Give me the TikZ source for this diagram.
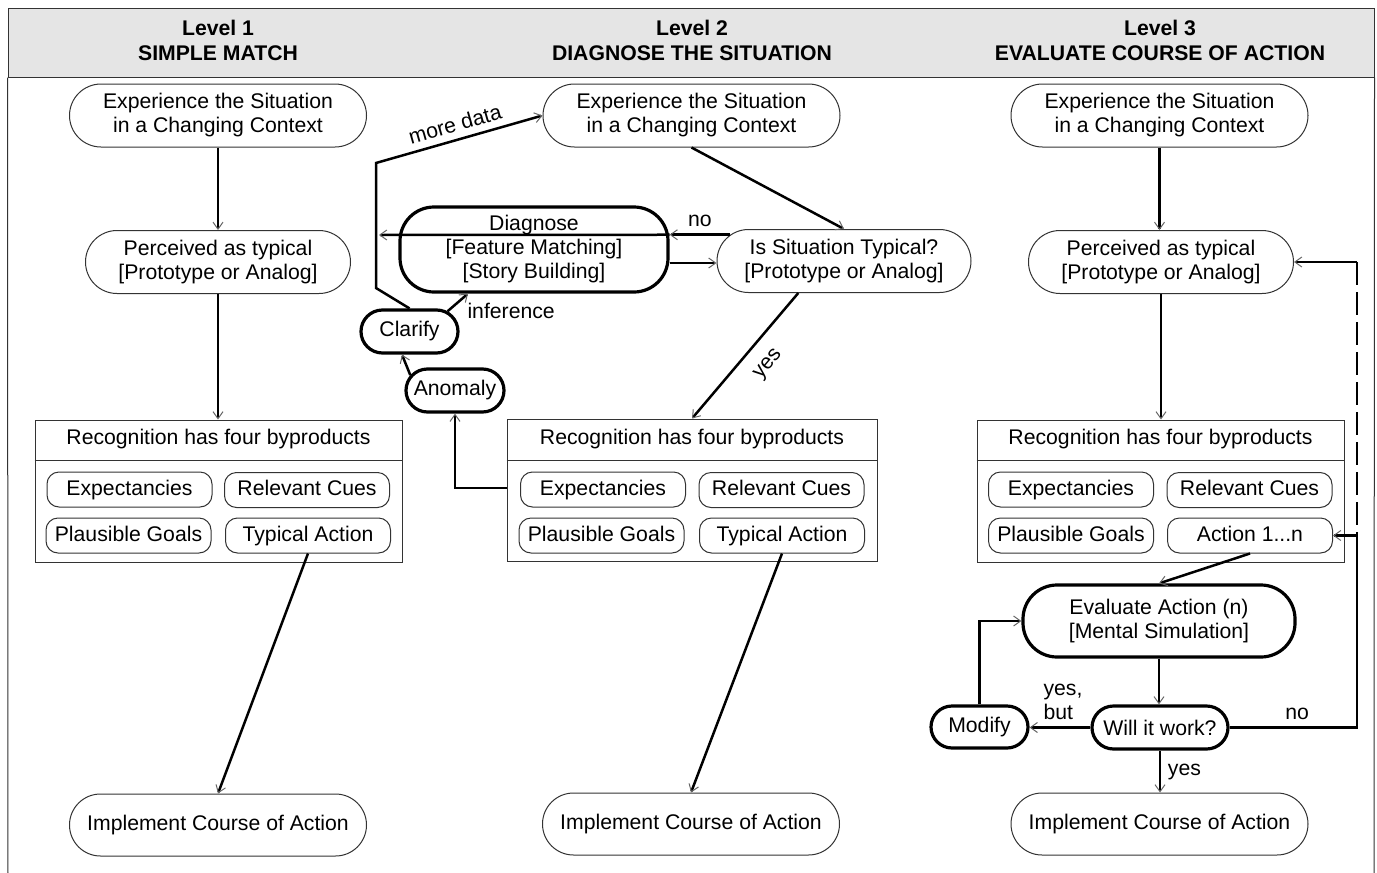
\documentclass[tikz,border=0pt]{standalone}
\usepackage{fontspec}
\setmainfont{Liberation Sans}
\usetikzlibrary{arrows.meta,shapes.misc,calc}
\begin{document}
\begin{tikzpicture}[x=0.5pt,y=-0.5pt,
  font=\fontsize{10.6}{12}\selectfont,
  gtip/.tip={Straight Barb[length=3.5pt,width=5pt,line width'=0.5pt,color=black!60]},
  stad/.style={draw=black!80, line width=0.5pt, fill=white, rounded rectangle, minimum width=152.5pt, minimum height=31.5pt, align=center, inner sep=2pt},
  thk/.style={draw=black, line width=1.6pt, fill=white, rounded rectangle, minimum height=21.5pt, inner sep=2pt},
  thkbox/.style={draw=black, line width=1.6pt, fill=white, rectangle, rounded corners=17pt, align=center, inner sep=2pt},
  pill/.style={draw=black!80, line width=0.5pt, fill=white, rectangle, rounded corners=6pt, minimum width=82.5pt, minimum height=17.5pt, inner sep=1pt, text height=7.8pt, text depth=2.2pt},
  recbox/.style={draw=black!80, line width=0.5pt, minimum width=183.5pt, minimum height=71pt, inner sep=0pt},
  thinline/.style={draw=black!80, line width=0.5pt},
  conn/.style={line width=1.25pt, draw=black, -gtip},
  plain/.style={line width=1.25pt, draw=black},
  hdrtxt/.style={font=\fontsize{10.6}{12.5}\selectfont\bfseries, align=center}
]
\useasboundingbox (0,0) rectangle (1377,873);

% frame and header
\node[draw=black!80, fill=black!10, line width=0.5pt, minimum width=683pt, minimum height=34.5pt, inner sep=0pt] (hdr) at (691,42.5) {};
\draw[thinline] (hdr.south west) -- (8,873);
\draw[thinline] (hdr.south east) -- (1374,873);
\node[hdrtxt] (h1) at (218,40.5) {Level 1\\SIMPLE MATCH};
\node[hdrtxt] (h2) at (692,40.5) {Level 2\\DIAGNOSE THE SITUATION};
\node[hdrtxt] (h3) at (1160,40.5) {Level 3\\EVALUATE COURSE OF ACTION};

% ---------- Level 1
\node[stad] (e1) at (218,115.5) {Experience the Situation\\in a Changing Context};
\node[stad, minimum width=136.5pt] (p1) at (218,262) {Perceived as typical\\{}[Prototype or Analog]};
\node[recbox] (r1) at (218.5,491) {};
\node (t1) at (218.5,439.5) {Recognition has four byproducts};
\draw[thinline] (r1.west |- 0,460) -- (r1.east |- 0,460);
\node[pill] (l1exp) at (129.5,489.5) {Expectancies};
\node[pill] (l1cue) at (307,490) {Relevant Cues};
\node[pill] (l1goal) at (128.5,535.5) {Plausible Goals};
\node[pill] (l1act) at (308,535.5) {Typical Action};
\node[stad, minimum height=31pt] (i1) at (218,825) {Implement Course of Action};

\draw[conn] (e1.south) -- (e1.south |- p1.north);
\draw[conn] (p1.south) -- (p1.south |- r1.north);
\draw[conn] (l1act.south) -- (i1.north);

% ---------- Level 2
\node[stad] (e2) at (691.5,115.5) {Experience the Situation\\in a Changing Context};
\node[thkbox, minimum width=134pt, minimum height=42.5pt] (diag) at (534,249.5) {Diagnose\\{}[Feature Matching]\\{}[Story Building]};
\node[stad, minimum width=131pt] (is) at (844,261) {Is Situation Typical?\\{}[Prototype or Analog]};
\node[thk, minimum width=52.5pt] (clar) at (409.5,331.5) {Clarify};
\node[thk, minimum width=53pt] (anom) at (455,390.5) {Anomaly};
\node[recbox, minimum width=185pt] (r2) at (692,490) {};
\node (t2) at (692,439.5) {Recognition has four byproducts};
\draw[thinline] (r2.west |- 0,460) -- (r2.east |- 0,460);
\node[pill] (l2exp) at (603,489.5) {Expectancies};
\node[pill] (l2cue) at (781.5,490) {Relevant Cues};
\node[pill] (l2goal) at (601.5,535.5) {Plausible Goals};
\node[pill] (l2act) at (782,535.5) {Typical Action};
\node[stad, minimum height=31pt] (i2) at (691,824) {Implement Course of Action};

\coordinate (m1) at (376,288);
\coordinate (m2) at (376,163);
\coordinate (mdv) at (379,235);

\draw[conn] (e2.south) -- (is.north);
\draw[conn] (diag.east |- 0,263) -- (is.west |- 0,263);
\draw[conn] (is.167.5) -- node[above]{no} (diag.east |- is.167.5);
\draw[conn] (diag.east |- is.167.5) -- (mdv);
\draw[conn] (clar.north) -- (m1) -- (m2) -- node[sloped, above]{more data} (e2.west);
\draw[conn] (clar.28) -- node[at start, anchor=west, xshift=6pt]{inference} (diag.south -| 468,0);
\draw[conn] (anom.161) -- (clar.-108);
\draw[conn] (r2.west |- 0,488) -| (anom.south);
\draw[conn] (is.-145) -- node[sloped, below=4pt, pos=0.45]{yes} (r2.north);
\draw[conn] (l2act.south) -- (i2.north);

% ---------- Level 3
\node[stad] (e3) at (1159.5,115.5) {Experience the Situation\\in a Changing Context};
\node[stad, minimum width=136.5pt] (p3) at (1161,262) {Perceived as typical\\{}[Prototype or Analog]};
\node[recbox] (r3) at (1160.5,491) {};
\node (t3) at (1160.5,439.5) {Recognition has four byproducts};
\draw[thinline] (r3.west |- 0,460) -- (r3.east |- 0,460);
\node[pill] (l3exp) at (1071,489.5) {Expectancies};
\node[pill] (l3cue) at (1249.5,490) {Relevant Cues};
\node[pill] (l3goal) at (1071,535.5) {Plausible Goals};
\node[pill] (l3act) at (1250,535.5) {Action 1...n};
\node[thkbox, minimum width=136pt, minimum height=36pt] (eval) at (1159,621) {Evaluate Action (n)\\{}[Mental Simulation]};
\node[thk, minimum width=72pt] (will) at (1160,727.5) {Will it work?};
\node[thk, minimum width=52.5pt, minimum height=21pt] (mod) at (979.5,727) {Modify};
\node[stad, minimum height=31pt] (i3) at (1159.5,824) {Implement Course of Action};

\coordinate (n1) at (1357,727.5);
\coordinate (n2) at (1357,535.5);
\coordinate (n3) at (1357,262);

\draw[conn] (e3.south) -- (e3.south |- p3.north);
\draw[conn] (p3.south) -- (p3.south |- r3.north);
\draw[conn] (l3act.south) -- (eval.north);
\draw[conn] (eval.south) -- (eval.south |- will.north);
\draw[conn] (will.west) -- node[pos=0.45, above, align=left]{yes,\\but} (will.west -| mod.east);
\draw[conn] (mod.north) |- (eval.west);
\draw[conn] (will.south) -- node[right]{yes} (will.south |- i3.north);
\draw[conn] (will.east) -- node[above, pos=0.53]{no} (n1) -- (n2) -- (l3act.east |- n2);
\draw[plain, dash pattern=on 11.5pt off 3.5pt] (n3) -- (n2);
\draw[conn] (n3) -- (p3.east);
\end{tikzpicture}
\end{document}
